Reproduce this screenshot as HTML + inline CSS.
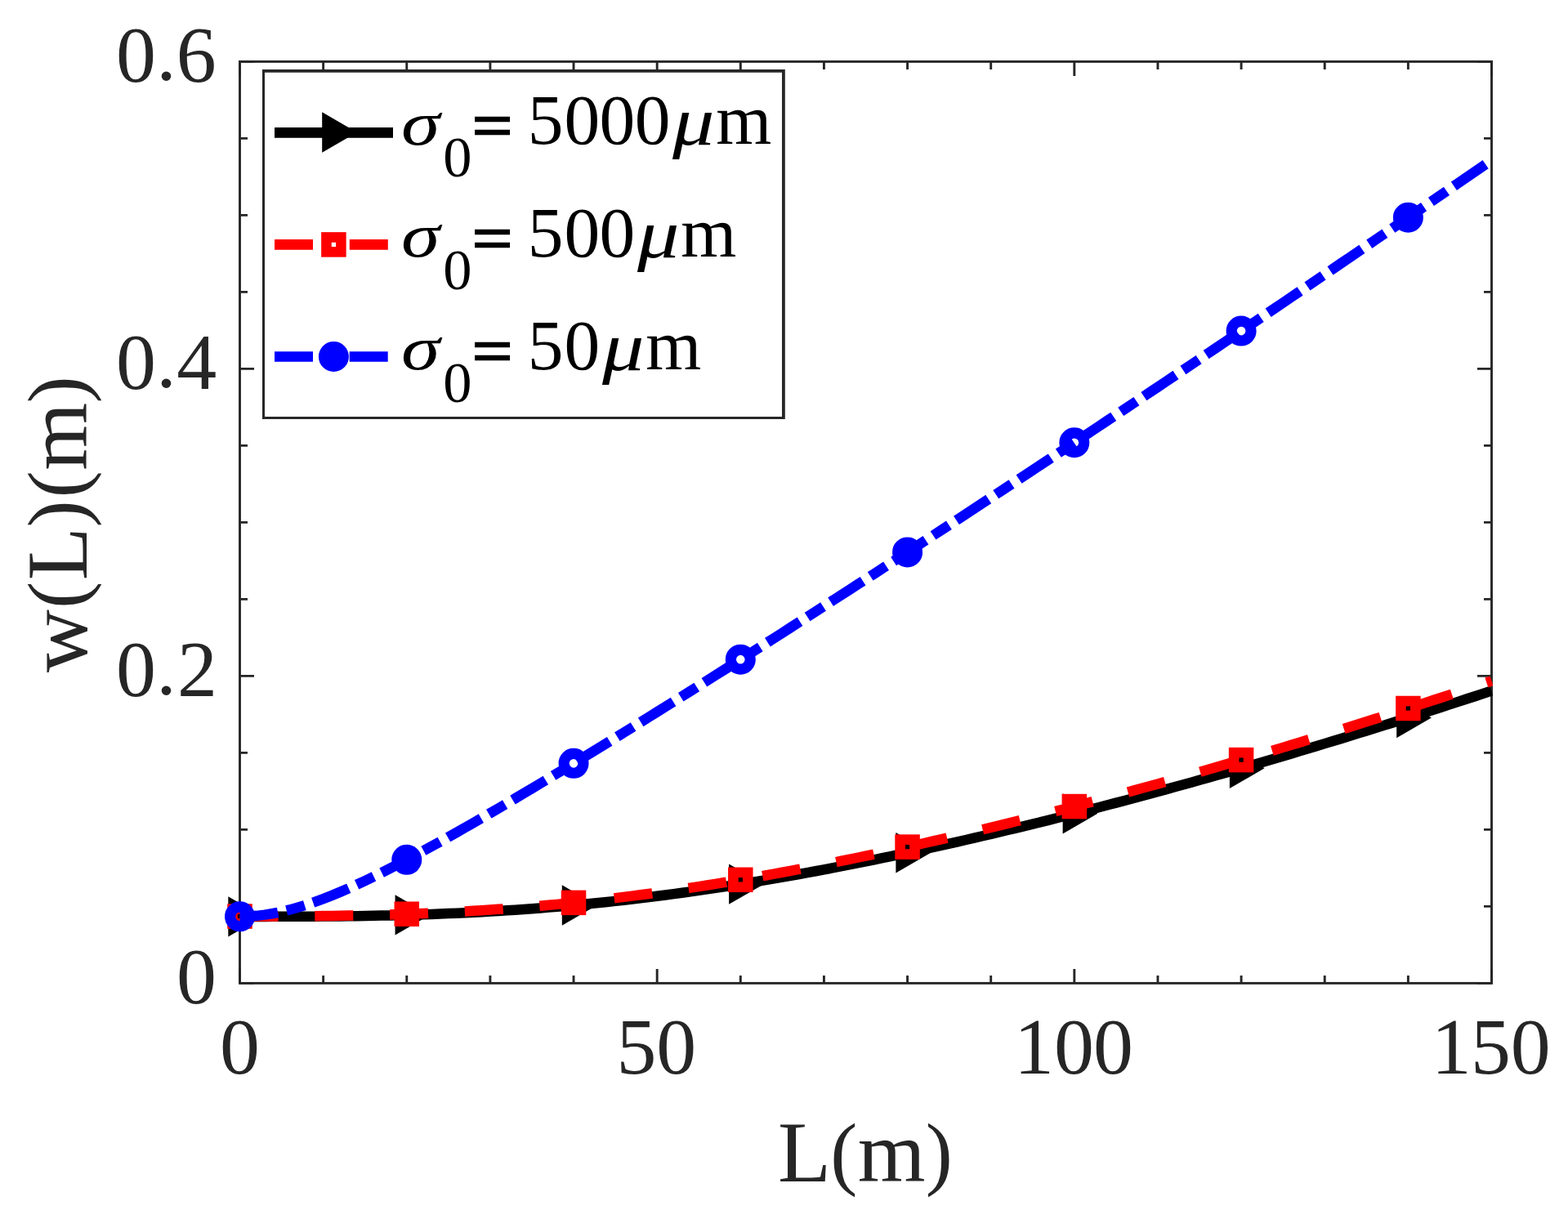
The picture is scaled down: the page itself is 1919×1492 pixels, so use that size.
<!DOCTYPE html>
<html lang="en"><head><meta charset="utf-8"><title>w(L) versus L</title>
<style>html,body{margin:0;padding:0;background:#fff}body{width:1919px;height:1492px;overflow:hidden}svg{display:block}text{font-family:"Liberation Serif","DejaVu Serif",serif}.tk{font-size:97.9px;fill:#262626}.lb{font-size:106.5px;fill:#262626}.lg{font-size:86.25px;fill:#000}.sub{font-size:69px;fill:#000}.it{font-style:italic}</style></head><body>
<svg width="1919" height="1492" viewBox="0 0 1919 1492">
<rect width="1919" height="1492" fill="#fff"/>
<defs><clipPath id="ax"><rect x="292.10" y="74.00" width="1534.80" height="1130.80"/></clipPath></defs>
<g stroke="#262626" fill="none" stroke-width="2.90">
<path d="M293.50 1203.40 v-17.50 M293.50 75.40 v17.50 M395.63 1203.40 v-9.50 M395.63 75.40 v9.50 M497.77 1203.40 v-9.50 M497.77 75.40 v9.50 M599.90 1203.40 v-9.50 M599.90 75.40 v9.50 M702.03 1203.40 v-9.50 M702.03 75.40 v9.50 M804.17 1203.40 v-17.50 M804.17 75.40 v17.50 M906.30 1203.40 v-9.50 M906.30 75.40 v9.50 M1008.43 1203.40 v-9.50 M1008.43 75.40 v9.50 M1110.57 1203.40 v-9.50 M1110.57 75.40 v9.50 M1212.70 1203.40 v-9.50 M1212.70 75.40 v9.50 M1314.83 1203.40 v-17.50 M1314.83 75.40 v17.50 M1416.97 1203.40 v-9.50 M1416.97 75.40 v9.50 M1519.10 1203.40 v-9.50 M1519.10 75.40 v9.50 M1621.23 1203.40 v-9.50 M1621.23 75.40 v9.50 M1723.37 1203.40 v-9.50 M1723.37 75.40 v9.50 M1825.50 1203.40 v-17.50 M1825.50 75.40 v17.50 M293.50 1203.40 h17.50 M1825.50 1203.40 h-17.50 M293.50 1109.40 h9.50 M1825.50 1109.40 h-9.50 M293.50 1015.40 h9.50 M1825.50 1015.40 h-9.50 M293.50 921.40 h9.50 M1825.50 921.40 h-9.50 M293.50 827.40 h17.50 M1825.50 827.40 h-17.50 M293.50 733.40 h9.50 M1825.50 733.40 h-9.50 M293.50 639.40 h9.50 M1825.50 639.40 h-9.50 M293.50 545.40 h9.50 M1825.50 545.40 h-9.50 M293.50 451.40 h17.50 M1825.50 451.40 h-17.50 M293.50 357.40 h9.50 M1825.50 357.40 h-9.50 M293.50 263.40 h9.50 M1825.50 263.40 h-9.50 M293.50 169.40 h9.50 M1825.50 169.40 h-9.50 M293.50 75.40 h17.50 M1825.50 75.40 h-17.50"/>
<rect x="293.50" y="75.40" width="1532.00" height="1128.00" stroke-width="2.90"/>
</g>
<g><path d="M293.50 1121.90 L303.71 1121.90 L313.93 1121.89 L324.14 1121.88 L334.35 1121.87 L344.57 1121.85 L354.78 1121.82 L364.99 1121.78 L375.21 1121.73 L385.42 1121.67 L395.63 1121.60 L405.85 1121.51 L416.06 1121.41 L426.27 1121.29 L436.49 1121.15 L446.70 1120.99 L456.91 1120.81 L467.13 1120.61 L477.34 1120.39 L487.55 1120.14 L497.77 1119.87 L507.98 1119.57 L518.19 1119.25 L528.41 1118.90 L538.62 1118.52 L548.83 1118.11 L559.05 1117.67 L569.26 1117.20 L579.47 1116.69 L589.69 1116.16 L599.90 1115.59 L610.11 1114.99 L620.33 1114.35 L630.54 1113.68 L640.75 1112.97 L650.97 1112.23 L661.18 1111.46 L671.39 1110.64 L681.61 1109.80 L691.82 1108.91 L702.03 1107.99 L712.25 1107.03 L722.46 1106.04 L732.67 1105.01 L742.89 1103.94 L753.10 1102.84 L763.31 1101.70 L773.53 1100.53 L783.74 1099.32 L793.95 1098.08 L804.17 1096.80 L814.38 1095.48 L824.59 1094.13 L834.81 1092.75 L845.02 1091.33 L855.23 1089.88 L865.45 1088.40 L875.66 1086.88 L885.87 1085.33 L896.09 1083.75 L906.30 1082.13 L916.51 1080.49 L926.73 1078.81 L936.94 1077.11 L947.15 1075.37 L957.37 1073.61 L967.58 1071.81 L977.79 1069.99 L988.01 1068.13 L998.22 1066.25 L1008.43 1064.35 L1018.65 1062.41 L1028.86 1060.45 L1039.07 1058.46 L1049.29 1056.44 L1059.50 1054.40 L1069.71 1052.33 L1079.93 1050.24 L1090.14 1048.12 L1100.35 1045.98 L1110.57 1043.81 L1120.78 1041.62 L1130.99 1039.41 L1141.21 1037.17 L1151.42 1034.91 L1161.63 1032.63 L1171.85 1030.33 L1182.06 1028.00 L1192.27 1025.65 L1202.49 1023.28 L1212.70 1020.89 L1222.91 1018.47 L1233.13 1016.04 L1243.34 1013.59 L1253.55 1011.11 L1263.77 1008.62 L1273.98 1006.10 L1284.19 1003.57 L1294.41 1001.02 L1304.62 998.44 L1314.83 995.85 L1325.05 993.24 L1335.26 990.61 L1345.47 987.97 L1355.69 985.30 L1365.90 982.62 L1376.11 979.92 L1386.33 977.20 L1396.54 974.46 L1406.75 971.71 L1416.97 968.94 L1427.18 966.15 L1437.39 963.34 L1447.61 960.52 L1457.82 957.69 L1468.03 954.83 L1478.25 951.96 L1488.46 949.07 L1498.67 946.17 L1508.89 943.25 L1519.10 940.32 L1529.31 937.37 L1539.53 934.40 L1549.74 931.42 L1559.95 928.42 L1570.17 925.41 L1580.38 922.39 L1590.59 919.34 L1600.81 916.29 L1611.02 913.22 L1621.23 910.13 L1631.45 907.03 L1641.66 903.92 L1651.87 900.79 L1662.09 897.65 L1672.30 894.49 L1682.51 891.32 L1692.73 888.13 L1702.94 884.93 L1713.15 881.72 L1723.37 878.49 L1733.58 875.25 L1743.79 872.00 L1754.01 868.73 L1764.22 865.45 L1774.43 862.16 L1784.65 858.85 L1794.86 855.53 L1805.07 852.20 L1815.29 848.85 L1825.50 845.50" fill="none" stroke="#000" stroke-width="12.5" clip-path="url(#ax)"/>
<path d="M279.30 1097.20 L279.30 1146.60 L322.00 1121.90 Z" fill="#000"/>
<path d="M483.57 1095.17 L483.57 1144.57 L526.27 1119.87 Z" fill="#000"/>
<path d="M687.83 1083.29 L687.83 1132.69 L730.53 1107.99 Z" fill="#000"/>
<path d="M892.10 1057.43 L892.10 1106.83 L934.80 1082.13 Z" fill="#000"/>
<path d="M1096.37 1019.11 L1096.37 1068.51 L1139.07 1043.81 Z" fill="#000"/>
<path d="M1300.63 971.15 L1300.63 1020.55 L1343.33 995.85 Z" fill="#000"/>
<path d="M1504.90 915.62 L1504.90 965.02 L1547.60 940.32 Z" fill="#000"/>
<path d="M1709.17 853.79 L1709.17 903.19 L1751.87 878.49 Z" fill="#000"/>
</g>
<g><path d="M293.50 1121.52 L303.71 1121.52 L313.93 1121.51 L324.14 1121.49 L334.35 1121.47 L344.57 1121.43 L354.78 1121.38 L364.99 1121.31 L375.21 1121.23 L385.42 1121.14 L395.63 1121.03 L405.85 1120.90 L416.06 1120.75 L426.27 1120.58 L436.49 1120.39 L446.70 1120.17 L456.91 1119.93 L467.13 1119.67 L477.34 1119.38 L487.55 1119.06 L497.77 1118.72 L507.98 1118.34 L518.19 1117.94 L528.41 1117.50 L538.62 1117.03 L548.83 1116.54 L559.05 1116.00 L569.26 1115.44 L579.47 1114.84 L589.69 1114.20 L599.90 1113.54 L610.11 1112.83 L620.33 1112.09 L630.54 1111.31 L640.75 1110.50 L650.97 1109.65 L661.18 1108.77 L671.39 1107.84 L681.61 1106.88 L691.82 1105.89 L702.03 1104.86 L712.25 1103.79 L722.46 1102.68 L732.67 1101.54 L742.89 1100.36 L753.10 1099.14 L763.31 1097.89 L773.53 1096.61 L783.74 1095.28 L793.95 1093.93 L804.17 1092.54 L814.38 1091.11 L824.59 1089.65 L834.81 1088.16 L845.02 1086.63 L855.23 1085.07 L865.45 1083.48 L875.66 1081.86 L885.87 1080.20 L896.09 1078.52 L906.30 1076.80 L916.51 1075.05 L926.73 1073.27 L936.94 1071.47 L947.15 1069.63 L957.37 1067.77 L967.58 1065.87 L977.79 1063.95 L988.01 1062.00 L998.22 1060.02 L1008.43 1058.02 L1018.65 1055.99 L1028.86 1053.93 L1039.07 1051.85 L1049.29 1049.75 L1059.50 1047.61 L1069.71 1045.46 L1079.93 1043.28 L1090.14 1041.07 L1100.35 1038.84 L1110.57 1036.59 L1120.78 1034.31 L1130.99 1032.01 L1141.21 1029.69 L1151.42 1027.35 L1161.63 1024.98 L1171.85 1022.60 L1182.06 1020.19 L1192.27 1017.76 L1202.49 1015.31 L1212.70 1012.84 L1222.91 1010.35 L1233.13 1007.83 L1243.34 1005.30 L1253.55 1002.75 L1263.77 1000.18 L1273.98 997.59 L1284.19 994.98 L1294.41 992.35 L1304.62 989.70 L1314.83 987.04 L1325.05 984.36 L1335.26 981.65 L1345.47 978.93 L1355.69 976.20 L1365.90 973.44 L1376.11 970.67 L1386.33 967.88 L1396.54 965.07 L1406.75 962.25 L1416.97 959.41 L1427.18 956.55 L1437.39 953.68 L1447.61 950.78 L1457.82 947.88 L1468.03 944.96 L1478.25 942.02 L1488.46 939.06 L1498.67 936.09 L1508.89 933.11 L1519.10 930.11 L1529.31 927.09 L1539.53 924.06 L1549.74 921.01 L1559.95 917.95 L1570.17 914.87 L1580.38 911.78 L1590.59 908.67 L1600.81 905.55 L1611.02 902.42 L1621.23 899.27 L1631.45 896.10 L1641.66 892.93 L1651.87 889.73 L1662.09 886.53 L1672.30 883.31 L1682.51 880.07 L1692.73 876.83 L1702.94 873.56 L1713.15 870.29 L1723.37 867.00 L1733.58 863.70 L1743.79 860.38 L1754.01 857.05 L1764.22 853.71 L1774.43 850.36 L1784.65 846.99 L1794.86 843.61 L1805.07 840.21 L1815.29 836.81 L1825.50 833.39" fill="none" stroke="#f00" stroke-width="12.5" stroke-dasharray="47 44.8" clip-path="url(#ax)"/>
<rect x="284.55" y="1112.57" width="17.9" height="17.9" fill="none" stroke="#f00" stroke-width="12.6"/>
<rect x="488.82" y="1109.77" width="17.9" height="17.9" fill="none" stroke="#f00" stroke-width="12.6"/>
<rect x="693.08" y="1095.91" width="17.9" height="17.9" fill="none" stroke="#f00" stroke-width="12.6"/>
<rect x="897.35" y="1067.85" width="17.9" height="17.9" fill="none" stroke="#f00" stroke-width="12.6"/>
<rect x="1101.62" y="1027.64" width="17.9" height="17.9" fill="none" stroke="#f00" stroke-width="12.6"/>
<rect x="1305.88" y="978.09" width="17.9" height="17.9" fill="none" stroke="#f00" stroke-width="12.6"/>
<rect x="1510.15" y="921.16" width="17.9" height="17.9" fill="none" stroke="#f00" stroke-width="12.6"/>
<rect x="1714.42" y="858.05" width="17.9" height="17.9" fill="none" stroke="#f00" stroke-width="12.6"/>
</g>
<g><path d="M293.50 1121.81 L303.71 1121.57 L313.93 1120.84 L324.14 1119.64 L334.35 1117.99 L344.57 1115.91 L354.78 1113.43 L364.99 1110.58 L375.21 1107.40 L385.42 1103.90 L395.63 1100.14 L405.85 1096.12 L416.06 1091.88 L426.27 1087.44 L436.49 1082.83 L446.70 1078.06 L456.91 1073.14 L467.13 1068.10 L477.34 1062.95 L487.55 1057.69 L497.77 1052.34 L507.98 1046.90 L518.19 1041.39 L528.41 1035.81 L538.62 1030.16 L548.83 1024.46 L559.05 1018.71 L569.26 1012.91 L579.47 1007.06 L589.69 1001.17 L599.90 995.24 L610.11 989.28 L620.33 983.28 L630.54 977.25 L640.75 971.20 L650.97 965.11 L661.18 959.00 L671.39 952.87 L681.61 946.71 L691.82 940.54 L702.03 934.34 L712.25 928.12 L722.46 921.88 L732.67 915.63 L742.89 909.36 L753.10 903.07 L763.31 896.76 L773.53 890.45 L783.74 884.11 L793.95 877.77 L804.17 871.41 L814.38 865.03 L824.59 858.65 L834.81 852.25 L845.02 845.84 L855.23 839.42 L865.45 832.99 L875.66 826.55 L885.87 820.10 L896.09 813.63 L906.30 807.16 L916.51 800.68 L926.73 794.19 L936.94 787.68 L947.15 781.17 L957.37 774.65 L967.58 768.13 L977.79 761.59 L988.01 755.04 L998.22 748.49 L1008.43 741.93 L1018.65 735.36 L1028.86 728.78 L1039.07 722.19 L1049.29 715.60 L1059.50 709.00 L1069.71 702.39 L1079.93 695.77 L1090.14 689.15 L1100.35 682.52 L1110.57 675.88 L1120.78 669.24 L1130.99 662.58 L1141.21 655.93 L1151.42 649.26 L1161.63 642.59 L1171.85 635.91 L1182.06 629.22 L1192.27 622.53 L1202.49 615.83 L1212.70 609.12 L1222.91 602.41 L1233.13 595.69 L1243.34 588.97 L1253.55 582.23 L1263.77 575.50 L1273.98 568.75 L1284.19 562.00 L1294.41 555.24 L1304.62 548.48 L1314.83 541.71 L1325.05 534.94 L1335.26 528.16 L1345.47 521.37 L1355.69 514.58 L1365.90 507.78 L1376.11 500.97 L1386.33 494.16 L1396.54 487.34 L1406.75 480.52 L1416.97 473.69 L1427.18 466.86 L1437.39 460.02 L1447.61 453.17 L1457.82 446.32 L1468.03 439.46 L1478.25 432.60 L1488.46 425.73 L1498.67 418.86 L1508.89 411.98 L1519.10 405.09 L1529.31 398.20 L1539.53 391.31 L1549.74 384.40 L1559.95 377.50 L1570.17 370.58 L1580.38 363.66 L1590.59 356.74 L1600.81 349.81 L1611.02 342.87 L1621.23 335.93 L1631.45 328.99 L1641.66 322.04 L1651.87 315.08 L1662.09 308.12 L1672.30 301.15 L1682.51 294.18 L1692.73 287.20 L1702.94 280.21 L1713.15 273.22 L1723.37 266.23 L1733.58 259.23 L1743.79 252.22 L1754.01 245.21 L1764.22 238.20 L1774.43 231.18 L1784.65 224.15 L1794.86 217.12 L1805.07 210.08 L1815.29 203.04 L1825.50 195.99" fill="none" stroke="#00f" stroke-width="12.5" stroke-dasharray="47 10.8 23.1 10.8" clip-path="url(#ax)"/>
<circle cx="293.50" cy="1121.81" r="11.9" fill="none" stroke="#00f" stroke-width="13.2"/>
<circle cx="497.77" cy="1052.34" r="11.9" fill="none" stroke="#00f" stroke-width="13.2"/>
<circle cx="702.03" cy="934.34" r="11.9" fill="none" stroke="#00f" stroke-width="13.2"/>
<circle cx="906.30" cy="807.16" r="11.9" fill="none" stroke="#00f" stroke-width="13.2"/>
<circle cx="1110.57" cy="675.88" r="11.9" fill="none" stroke="#00f" stroke-width="13.2"/>
<circle cx="1314.83" cy="541.71" r="11.9" fill="none" stroke="#00f" stroke-width="13.2"/>
<circle cx="1519.10" cy="405.09" r="11.9" fill="none" stroke="#00f" stroke-width="13.2"/>
<circle cx="1723.37" cy="266.23" r="11.9" fill="none" stroke="#00f" stroke-width="13.2"/>
</g>
<path d="M321 85H960.8V512.9H321Z" fill="#fff"/><path d="M321 85H960.8V512.9H321Z M324 88.75V510H957V88.75Z" fill="#262626" fill-rule="evenodd"/>
<path d="M336 162.40 H481" stroke="#000" stroke-width="12.7" fill="none"/>
<path d="M394.20 137.30 L394.20 186.70 L436.90 162.00 Z" fill="#000"/>
<path d="M336 299.40 H481" stroke="#f00" stroke-width="12.7" stroke-dasharray="47 44.8" fill="none"/>
<rect x="399.45" y="290.45" width="17.9" height="17.9" fill="none" stroke="#f00" stroke-width="12.6"/>
<path d="M336 436.50 H481" stroke="#00f" stroke-width="12.7" stroke-dasharray="47 10.8 23.1 10.8" fill="none"/>
<circle cx="408.40" cy="436.50" r="11.9" fill="none" stroke="#00f" stroke-width="13.2"/>
<g id="leg0">
<text class="lg it" id="sg0" transform="matrix(1.0964 0 0 0.8614 490.89 176.66)" style="font-size:87.50px">σ</text>
<text class="sub" id="sb0" x="542.27" y="215.90" style="font-size:70.5px">0</text>
<text class="lg" id="eq0" transform="matrix(0.966 0 0 0.9 577.96 181.40)" style="font-size:90px;stroke:#000;stroke-width:2.6px">= </text>
<text class="lg" id="nm0" x="645.64 690.48 733.58 776.68" y="176.40" style="font-size:87.50px">5000</text>
<text class="lg it" id="mu0" transform="matrix(1.1987 0 0 1 823.10 176.90)" style="font-size:85.60px">μ</text>
<text class="lg" id="mm0" x="876.13" y="176.40" style="font-size:87.50px">m</text>
</g>
<g id="leg1">
<text class="lg it" id="sg1" transform="matrix(1.0964 0 0 0.8614 490.89 314.46)" style="font-size:87.50px">σ</text>
<text class="sub" id="sb1" x="542.27" y="353.70" style="font-size:70.5px">0</text>
<text class="lg" id="eq1" transform="matrix(0.966 0 0 0.9 577.96 319.20)" style="font-size:90px;stroke:#000;stroke-width:2.6px">= </text>
<text class="lg" id="nm1" x="645.64 690.48 733.58" y="314.20" style="font-size:87.50px">500</text>
<text class="lg it" id="mu1" transform="matrix(1.1987 0 0 1 780.10 314.70)" style="font-size:85.60px">μ</text>
<text class="lg" id="mm1" x="833.23" y="314.20" style="font-size:87.50px">m</text>
</g>
<g id="leg2">
<text class="lg it" id="sg2" transform="matrix(1.0964 0 0 0.8614 490.89 452.26)" style="font-size:87.50px">σ</text>
<text class="sub" id="sb2" x="542.27" y="491.50" style="font-size:70.5px">0</text>
<text class="lg" id="eq2" transform="matrix(0.966 0 0 0.9 577.96 457.00)" style="font-size:90px;stroke:#000;stroke-width:2.6px">= </text>
<text class="lg" id="nm2" x="645.64 690.48" y="452.00" style="font-size:87.50px">50</text>
<text class="lg it" id="mu2" transform="matrix(1.1987 0 0 1 737.10 452.50)" style="font-size:85.60px">μ</text>
<text class="lg" id="mm2" x="790.33" y="452.00" style="font-size:87.50px">m</text>
</g>
<text class="tk" id="yt0" x="216.12" y="1227.50">0</text>
<text class="tk" id="yt4" x="141.88 191.31 216.97" y="851.50">0<tspan dy="-1.5">.</tspan><tspan dy="1.5">2</tspan></text>
<text class="tk" id="yt8" x="141.88 191.31 216.23" y="475.50">0<tspan dy="-1.5">.</tspan><tspan dy="1.5">4</tspan></text>
<text class="tk" id="yt12" x="141.88 191.31 215.78" y="99.50">0<tspan dy="-1.5">.</tspan><tspan dy="1.5">6</tspan></text>
<text class="tk" id="xt0" x="269.02" y="1314.0">0</text>
<text class="tk" id="xt50" x="754.59 803.27" y="1314.0">50</text>
<text class="tk" id="xt100" x="1241.06 1289.98 1337.88" y="1314.0">100</text>
<text class="tk" id="xt150" x="1751.66 1800.04 1848.73" y="1314.0">150</text>
<text class="lb" id="xl" x="951.94 1016.30 1049.69 1132.76" y="1446.1">L<tspan font-size="99.2" dy="-2.2">(</tspan><tspan dy="2.2">m</tspan><tspan font-size="99.2" dy="-2.2">)</tspan></text>
<text class="lb" id="yl" transform="translate(105.5 0) rotate(-90)" x="-822.97 -744.75 -710.26 -645.54 -609.35 -575.81 -493.44" y="0">w<tspan font-size="99.2" dy="-2.2">(</tspan><tspan dy="2.2">L</tspan><tspan font-size="99.2" dy="-2.2">)</tspan><tspan font-size="99.2" dy="0">(</tspan><tspan dy="2.2">m</tspan><tspan font-size="99.2" dy="-2.2">)</tspan></text>
</svg></body></html>
